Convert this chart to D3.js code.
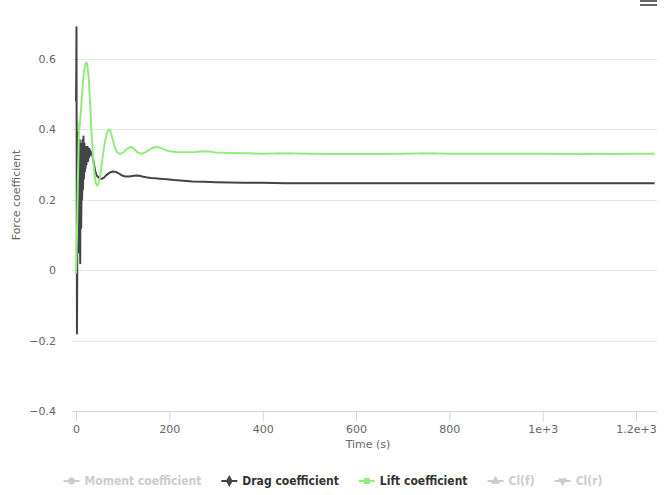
<!DOCTYPE html>
<html>
<head>
<meta charset="utf-8">
<script src="https://cdn.jsdelivr.net/npm/d3@7"></script>
<style>
body { margin: 0; background: #fff; }
svg { display: block; font-family: "DejaVu Sans", sans-serif; }
</style>
</head>
<body>
<div id="chart"></div>
<script>
// drag coefficient samples (time s, value)
var dragTime = [0, 0.5, 1, 1.5, 2, 2.5, 3, 3.5, 4, 4.5, 5, 5.5, 6, 6.5, 7, 7.5, 8, 8.5, 9, 9.5,
    10, 10.5, 11, 11.5, 12, 12.5, 13, 13.5, 14, 14.5, 15, 15.5, 16, 16.5, 17, 17.5, 18, 18.5, 19, 19.5,
    20, 20.5, 21, 21.5, 22, 22.5, 23, 23.5, 24, 24.5, 25, 25.5, 26, 26.5, 27, 27.5, 28, 28.5, 29, 29.5,
    30, 31, 32, 33, 34, 35, 36, 38, 40, 42, 44, 47, 50, 53, 56, 60, 65, 70, 75, 80, 85, 90, 95, 100,
    106, 112, 118, 124, 130, 136, 142, 150, 160, 170, 180, 195, 210, 230, 250, 275, 300, 330, 360, 400,
    450, 500, 600, 700, 800, 900, 1000, 1100, 1200, 1240];
var dragValues = [0.48, 0.55, 0.69, 0.25, -0.18, -0.05, 0.2, 0.39, 0.28, 0.08, 0.15, 0.36, 0.33, 0.1, 0.05, 0.3, 0.37, 0.15, 0.02, 0.2,
    0.36, 0.3, 0.12, 0.18, 0.35, 0.33, 0.2, 0.24, 0.37, 0.34, 0.23, 0.28, 0.38, 0.31, 0.26, 0.33, 0.36, 0.3, 0.28, 0.35,
    0.34, 0.29, 0.31, 0.35, 0.32, 0.3, 0.34, 0.35, 0.31, 0.32, 0.35, 0.33, 0.31, 0.34, 0.34, 0.32, 0.33, 0.345, 0.33, 0.325,
    0.34, 0.335, 0.33, 0.335, 0.33, 0.325, 0.32, 0.305, 0.29, 0.277, 0.27, 0.265, 0.262, 0.26, 0.26, 0.263, 0.27, 0.275, 0.279, 0.28, 0.279, 0.276, 0.272, 0.268,
    0.266, 0.266, 0.267, 0.268, 0.269, 0.268, 0.266, 0.264, 0.262, 0.261, 0.26, 0.258, 0.256, 0.254, 0.252, 0.251, 0.25, 0.249, 0.248, 0.248,
    0.247, 0.247, 0.247, 0.247, 0.247, 0.247, 0.247, 0.247, 0.247, 0.247];

// lift coefficient samples
var liftTime = [0, 2, 4, 6, 7, 8, 9, 11, 14, 17, 20, 22, 24, 27, 30, 33, 36, 39, 42, 45, 48, 51, 55, 60, 65, 70, 74, 78, 83, 88,
    94, 100, 106, 112, 118, 124, 130, 136, 142, 150, 160, 170, 178, 188, 200, 215, 235, 255, 270, 285, 300, 330, 360, 400, 450,
    500, 550, 600, 650, 700, 750, 800, 850, 900, 950, 1000, 1050, 1100, 1150, 1200, 1240];
var liftValues = [-0.01, 0.1, 0.25, 0.38, 0.42, 0.41, 0.43, 0.46, 0.52, 0.565, 0.585, 0.59, 0.585, 0.55, 0.48, 0.4, 0.33, 0.28, 0.25, 0.24, 0.245, 0.26, 0.3, 0.35, 0.385, 0.4, 0.395, 0.375, 0.35, 0.335,
    0.33, 0.333, 0.34, 0.347, 0.35, 0.345, 0.337, 0.332, 0.331, 0.336, 0.345, 0.35, 0.349, 0.343, 0.338, 0.336, 0.335, 0.336, 0.338, 0.337, 0.334, 0.333, 0.332, 0.331, 0.332,
    0.331, 0.33, 0.33, 0.33, 0.331, 0.332, 0.331, 0.331, 0.331, 0.331, 0.331, 0.33, 0.331, 0.33, 0.331, 0.331];

var xTicks = [0, 200, 400, 600, 800, 1000, 1200];
var xTickLabels = ["0", "200", "400", "600", "800", "1e+3", "1.2e+3"];
var yTicks = [-0.4, -0.2, 0, 0.2, 0.4, 0.6];

var legendItems = [
    {name: "Moment coefficient", color: "#cccccc", symbol: d3.symbolCircle, visible: false},
    {name: "Drag coefficient", color: "#434348", symbol: d3.symbolDiamond, visible: true},
    {name: "Lift coefficient", color: "#90ed7d", symbol: d3.symbolSquare, visible: true},
    {name: "Cl(f)", color: "#cccccc", symbol: d3.symbolTriangle, visible: false},
    {name: "Cl(r)", color: "#cccccc", symbol: "down", visible: false}
];

var width = 664, height = 495;
var plot = {left: 72, right: 657, top: 10, bottom: 411};

var svg = d3.select("#chart").append("svg")
    .attr("width", width)
    .attr("height", height);

var x = d3.scaleLinear()
    .domain([-8.6, 1245])
    .range([plot.left, plot.right]);

var y = d3.scaleLinear()
    .domain([-0.4, 0.739])
    .range([plot.bottom, plot.top]);

// grid lines
svg.append("g")
    .selectAll("line")
    .data(yTicks)
    .enter()
    .append("line")
    .attr("x1", plot.left)
    .attr("x2", plot.right)
    .attr("y1", d => Math.round(y(d)) + 0.5)
    .attr("y2", d => Math.round(y(d)) + 0.5)
    .attr("stroke", "#e6e6e6");

// y labels
svg.append("g")
    .selectAll("text")
    .data(yTicks)
    .enter()
    .append("text")
    .attr("x", 56)
    .attr("y", d => y(d) + 4)
    .attr("text-anchor", "end")
    .style("font-size", "11px")
    .style("fill", "#666666")
    .text(d => d3.format("")(+d.toFixed(1)).replace("-", "\u22120"));

// x axis
var xAxis = svg.append("g")
    .attr("transform", "translate(0," + (plot.bottom + 0.5) + ")")
    .call(d3.axisBottom(x).tickValues(xTicks).tickSize(10).tickPadding(4)
        .tickFormat((d, i) => xTickLabels[i]));
xAxis.select(".domain")
    .attr("stroke", "#ccd6eb")
    .attr("d", "M" + plot.left + ",0H" + plot.right);
xAxis.selectAll(".tick line").attr("stroke", "#ccd6eb");
xAxis.selectAll(".tick text")
    .style("font-family", "DejaVu Sans, sans-serif")
    .style("font-size", "11px")
    .style("fill", "#666666");

// axis titles
svg.append("text")
    .attr("x", 368)
    .attr("y", 448)
    .attr("text-anchor", "middle")
    .style("font-size", "11px")
    .style("fill", "#666666")
    .text("Time (s)");

svg.append("text")
    .attr("transform", "translate(20,195) rotate(-90)")
    .attr("text-anchor", "middle")
    .style("font-size", "11px")
    .style("fill", "#666666")
    .text("Force coefficient");

// series
var line = d3.line()
    .x(d => x(d[0]))
    .y(d => y(d[1]));

var dragData = dragTime.map((t, i) => [t, dragValues[i]]);
var liftData = liftTime.map((t, i) => [t, liftValues[i]]);

svg.append("path")
    .datum(dragData)
    .attr("d", line)
    .attr("fill", "none")
    .attr("stroke", "#434348")
    .attr("stroke-width", 2)
    .attr("stroke-linejoin", "round");

svg.append("path")
    .datum(liftData)
    .attr("d", line)
    .attr("fill", "none")
    .attr("stroke", "#90ed7d")
    .attr("stroke-width", 2)
    .attr("stroke-linejoin", "round");

// legend
var legend = svg.append("g");
var itemX = 0;
legendItems.forEach(function(item) {
    var g = legend.append("g").attr("transform", "translate(" + itemX + ",0)");
    g.append("line")
        .attr("x1", 0).attr("x2", 16)
        .attr("y1", 0).attr("y2", 0)
        .attr("stroke", item.color)
        .attr("stroke-width", 2);
    var sym = item.symbol === "down" ? d3.symbolTriangle : item.symbol;
    g.append("path")
        .attr("d", d3.symbol().type(sym).size(item.symbol === d3.symbolDiamond ? 40 : 36))
        .attr("transform", "translate(8,0)" + (item.symbol === "down" ? " rotate(180)" : ""))
        .attr("fill", item.color);
    var t = g.append("text")
        .attr("x", 21)
        .attr("y", 4)
        .style("font-size", "12px")
        .style("font-weight", "bold")
        .style("font-stretch", "condensed")
        .style("font-family", "'DejaVu Sans Condensed', 'DejaVu Sans', sans-serif")
        .style("fill", item.visible ? "#333333" : "#cccccc")
        .text(item.name);
    itemX += 21 + t.node().getComputedTextLength() + 20;
});
var legendWidth = itemX - 20;
legend.attr("transform", "translate(" + (333 - legendWidth / 2) + ",481)");

// menu button
svg.append("g")
    .selectAll("rect")
    .data([-4, 0, 4])
    .enter()
    .append("rect")
    .attr("x", 640)
    .attr("y", d => d)
    .attr("width", 17)
    .attr("height", 2)
    .attr("fill", "#666666");
</script>
</body>
</html>
